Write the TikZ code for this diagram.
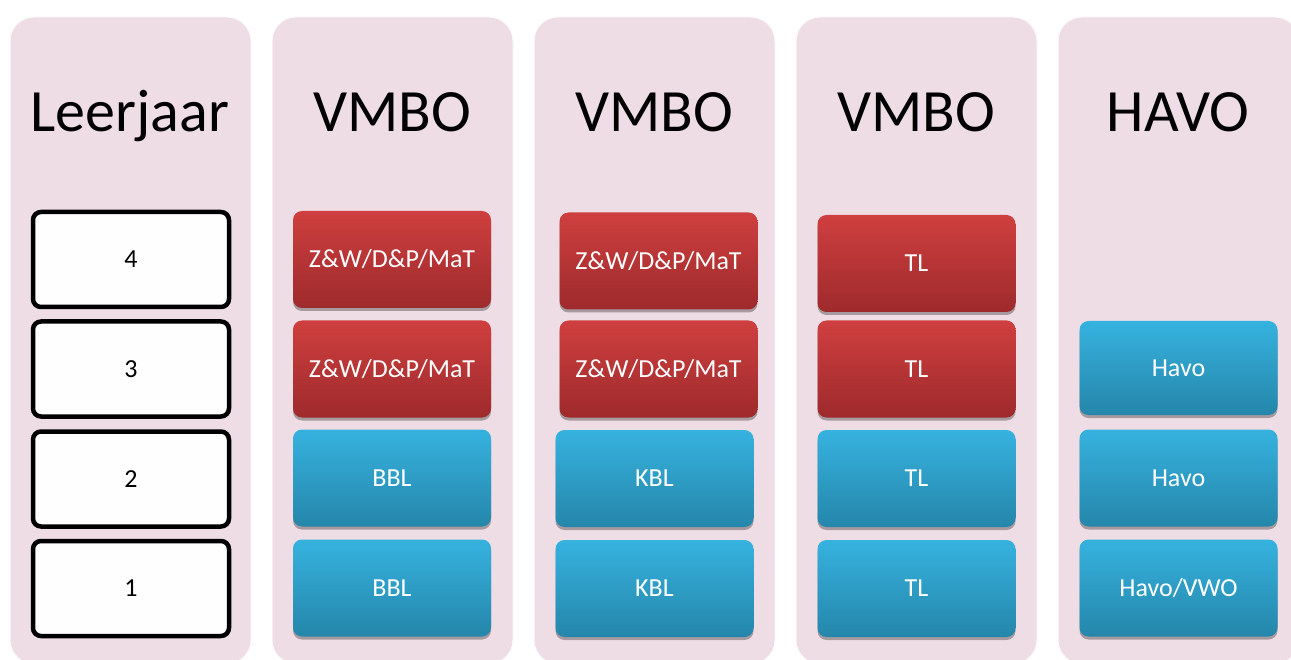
\documentclass[tikz,border=0pt]{standalone}
\usepackage{fontspec}
\setmainfont{Carlito}
\usetikzlibrary{shadows}

\definecolor{panelpink}{RGB}{238,221,229}
\definecolor{redtop}{RGB}{207,63,63}
\definecolor{redbot}{RGB}{158,42,44}
\definecolor{bluetop}{RGB}{54,178,223}
\definecolor{bluebot}{RGB}{37,134,170}

\tikzset{
    panel/.style={fill=panelpink, draw=white!85!panelpink, line width=1pt, rounded corners=24pt},
    title/.style={anchor=base, font=\fontsize{60}{60}\selectfont},
    yearbox/.style={draw=black, line width=4.5pt, fill=white!97!panelpink, rounded corners=8pt,
        minimum width=196pt, minimum height=95pt, font=\fontsize{26}{26}\selectfont},
    track/.style={rounded corners=9pt, minimum width=198pt, minimum height=97pt, text=white,
        font=\fontsize{26}{26}\selectfont,
        drop shadow={shadow xshift=0pt, shadow yshift=-3pt, opacity=0.3, fill=black}},
    redbox/.style={track, top color=redtop, bottom color=redbot},
    bluebox/.style={track, top color=bluetop, bottom color=bluebot}
}

\begin{document}
\begin{tikzpicture}[x=1pt,y=-1pt]
            \useasboundingbox (0,0) rectangle (1291,660);
            \fill[white] (0,0) rectangle (1291,660);

            % columns
            \foreach \x in {10,272,534,796,1058}
                \filldraw[panel] (\x,17) rectangle (\x+241,664);

            \node[title] (leerjaar) at (130,132) {Leerjaar};
            \node[title] (vmboA) at (392,132) {VMBO};
            \node[title] (vmboB) at (654,132) {VMBO};
            \node[title] (vmboC) at (916,132) {VMBO};
            \node[title] (havo) at (1178,132) {HAVO};

            % leerjaren
            \node[yearbox] (jaar4) at (131,259.5) {4};
            \node[yearbox] (jaar3) at (131,369) {3};
            \node[yearbox] (jaar2) at (131,479) {2};
            \node[yearbox] (jaar1) at (131,588.5) {1};

            % BBL
            \node[redbox] (bbl4) at (392,259.5) {Z\&W/D\&P/MaT};
            \node[redbox] (bbl3) at (392,369) {Z\&W/D\&P/MaT};
            \node[bluebox] (bbl2) at (392,478) {BBL};
            \node[bluebox] (bbl1) at (392,588) {BBL};

            % KBL
            \node[redbox] (kbl4) at (658.5,261) {Z\&W/D\&P/MaT};
            \node[redbox] (kbl3) at (658.5,369) {Z\&W/D\&P/MaT};
            \node[bluebox] (kbl2) at (654.5,478.5) {KBL};
            \node[bluebox] (kbl1) at (654.5,588.5) {KBL};

            % TL
            \node[redbox] (tl4) at (916.5,263.5) {TL};
            \node[redbox] (tl3) at (916.5,369) {TL};
            \node[bluebox] (tl2) at (916.5,478.5) {TL};
            \node[bluebox] (tl1) at (916.5,588.5) {TL};

            % HAVO
            \node[bluebox, minimum height=94pt] (havo3) at (1178.5,368) {Havo};
            \node[bluebox] (havo2) at (1178.5,478) {Havo};
            \node[bluebox] (havo1) at (1178.5,588) {Havo/VWO};
        \end{tikzpicture}
\end{document}
